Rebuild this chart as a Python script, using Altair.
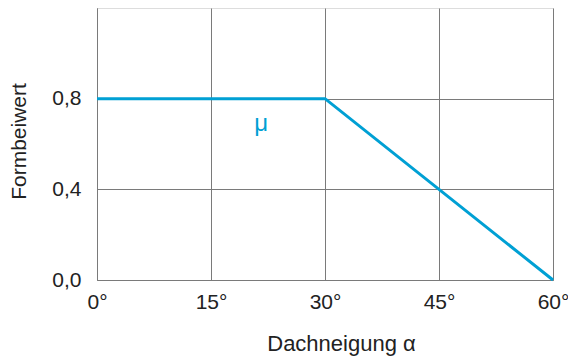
import altair as alt
import pandas as pd

angles = [0, 30, 60]
mu_values = [0.8, 0.8, 0.0]
x_ticks = [0, 15, 30, 45, 60]
y_ticks = [0.0, 0.4, 0.8]
label_text = ["μ"]
label_x = [21.6]
label_y = [0.657]

line_df = pd.DataFrame({"alpha": angles, "mu": mu_values})
lab_df = pd.DataFrame({"alpha": label_x, "mu": label_y, "t": label_text})

FONT = "Liberation Sans"
COLOR = "#00a0d4"
FS = 21

x_scale = alt.Scale(domain=[0, 60], nice=False, zero=False)
y_scale = alt.Scale(domain=[0, 1.2], nice=False)

x_enc = alt.X("alpha:Q", scale=x_scale, axis=alt.Axis(
    values=x_ticks, labelExpr="datum.value + '°'", title="Dachneigung α",
    grid=True, gridColor="#7a7a7a", gridWidth=1, ticks=False, domain=True,
    domainColor="#7a7a7a", labelPadding=11, labelFontSize=FS, labelFont=FONT,
    labelFlush=False, labelOverlap=False,
    labelColor="#222", titleFont=FONT, titleFontSize=22, titleFontWeight="normal",
    titleColor="#222", titleX=244, titleY=70, titleBaseline="alphabetic",
    titleAnchor="middle", titleAlign="center"))
y_enc = alt.Y("mu:Q", scale=y_scale, axis=alt.Axis(
    values=y_ticks, labelExpr="replace(format(datum.value, '.1f'), '.', ',')",
    title="Formbeiwert", grid=True, gridColor="#7a7a7a", gridWidth=1, ticks=False,
    domain=True, domainColor="#7a7a7a", labelPadding=16, labelFontSize=FS,
    labelFlush=False, labelOverlap=False,
    labelFont=FONT, labelColor="#222", titleFont=FONT, titleFontSize=FS,
    titleFontWeight="normal", titleColor="#222", titleX=-72, titleY=133,
    titleAngle=270, titleBaseline="alphabetic", titleAlign="center"))

line = alt.Chart(line_df).mark_line(color=COLOR, strokeWidth=3, clip=False).encode(
    x=x_enc, y=y_enc)
text = alt.Chart(lab_df).mark_text(color=COLOR, fontSize=24, font=FONT,
                                   baseline="alphabetic").encode(
    x=alt.X("alpha:Q", scale=x_scale), y=alt.Y("mu:Q", scale=y_scale), text="t:N")

chart = (line + text).properties(
    width=456, height=272,
    autosize=alt.AutoSizeParams(type="none"),
    padding={"left": 97, "top": 8, "right": 15, "bottom": 76},
).configure_view(stroke="#222", strokeWidth=1.5).configure(background="white")

chart.save("out.html", embed_options={"renderer": "svg", "actions": False})
